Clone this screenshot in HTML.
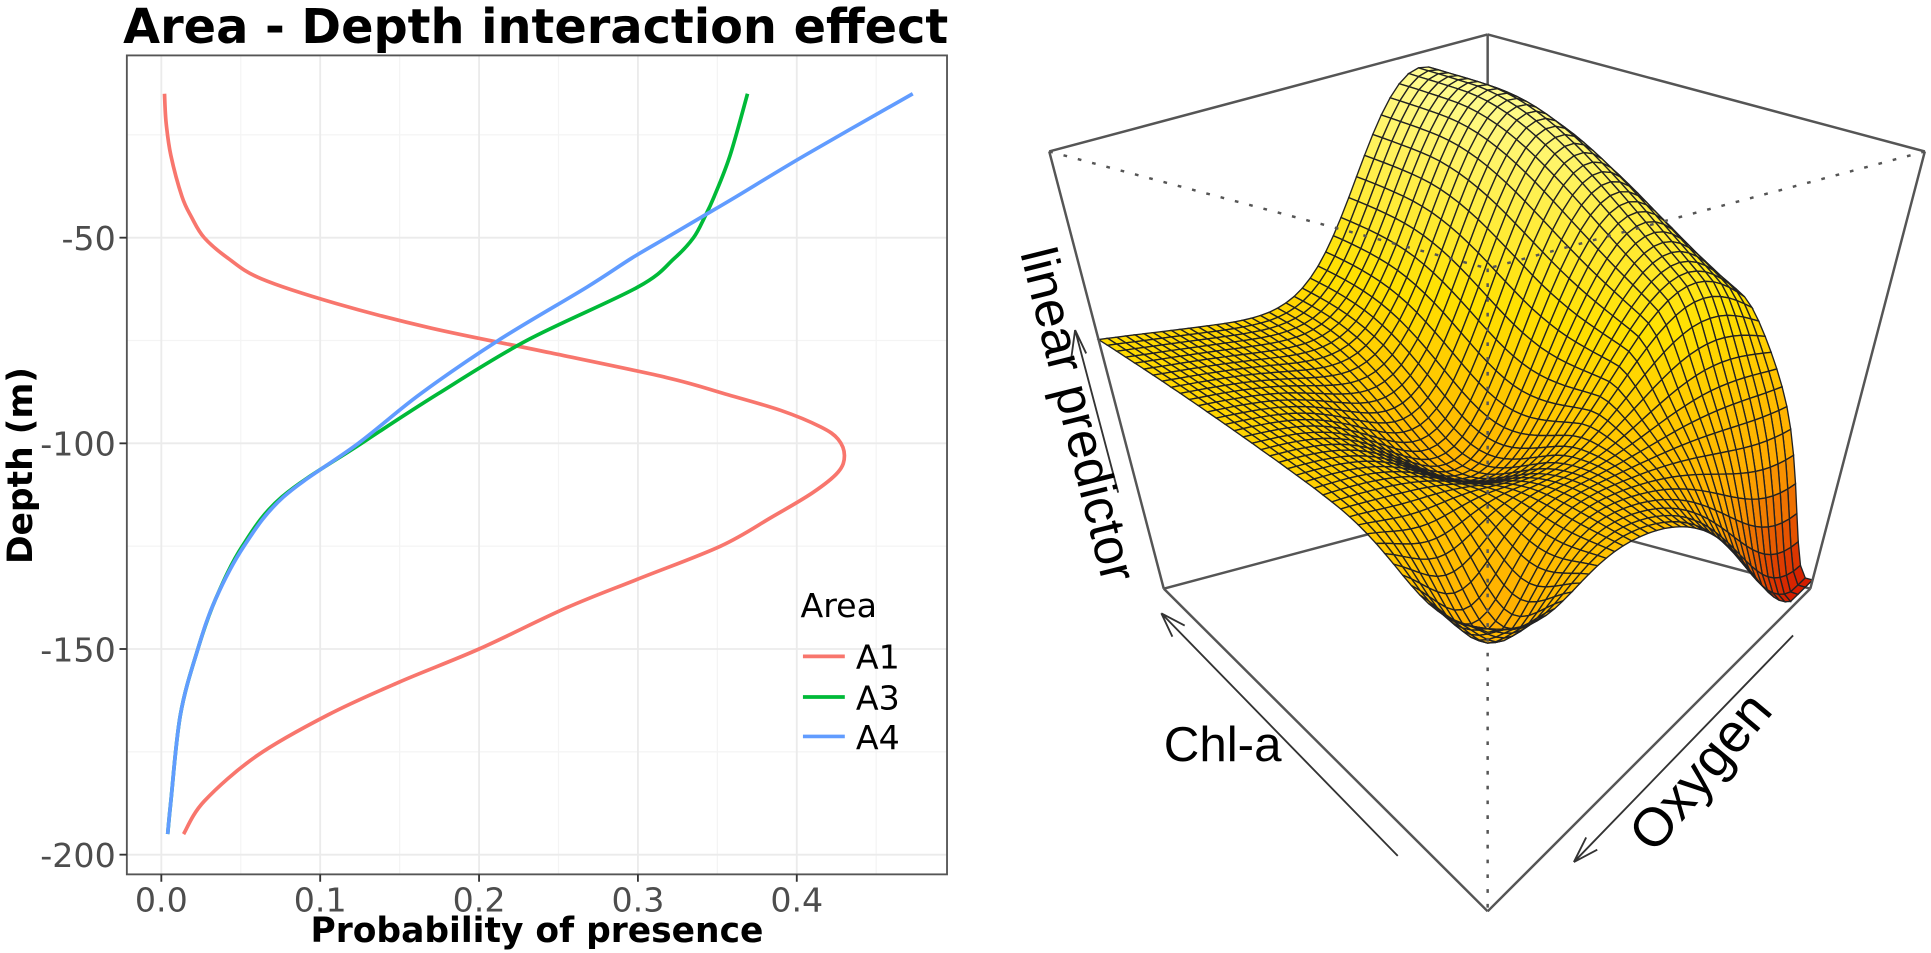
<!DOCTYPE html>
<html><head><meta charset="utf-8"><style>
body{margin:0;background:#fff;width:1931px;height:953px;overflow:hidden;font-family:"DejaVu Sans","Liberation Sans",sans-serif}
svg{position:absolute;left:0;top:0}
.lib{font-family:"Liberation Sans",sans-serif}
</style></head><body>
<svg id="s" width="1931" height="953">
<g transform="scale(1.2315)">
<text x="100" y="35" font-size="39" font-weight="bold" textLength="670" lengthAdjust="spacingAndGlyphs">Area - Depth interaction effect</text>
<g id="grid"></g>
<rect x="103" y="45" width="666" height="665" fill="none" stroke="#555" stroke-width="1.5"/>
<g id="ticks"></g>
<g id="lines"></g>
<text transform="translate(26,378) rotate(-90)" text-anchor="middle" font-size="28" font-weight="bold">Depth (m)</text>
<text x="436" y="765" text-anchor="middle" font-size="28" font-weight="bold">Probability of presence</text>
<g>
<text x="650" y="501" font-size="27">Area</text>
<g><line x1="652" y1="533" x2="686" y2="533" stroke="#F8766D" stroke-width="3"/><text x="695" y="543" font-size="27">A1</text></g>
<g><line x1="652" y1="566" x2="686" y2="566" stroke="#00BA38" stroke-width="3"/><text x="695" y="576" font-size="27">A3</text></g>
<g><line x1="652" y1="598" x2="686" y2="598" stroke="#619CFF" stroke-width="3"/><text x="695" y="608" font-size="27">A4</text></g>
</g>
<g id="box-back"></g>
<g id="surf"></g>
<g id="box-front"></g>
<g fill="none" stroke="#333" stroke-width="1.5">
<path d="M908,400 L873,268 M873,268 L870,290 M873,268 L882,287"/>
<path d="M1135,695 L943,498 M943,498 L952,517 M943,498 L962,508"/>
<path d="M1456,516 L1278,700 M1278,700 L1288,680 M1278,700 L1297,690"/>
</g>
<text class="lib" transform="translate(862,340) rotate(76)" text-anchor="middle" font-size="42">linear predictor</text>
<text class="lib" x="945" y="618" font-size="40">Chl-a</text>
<text class="lib" transform="translate(1392,636) rotate(-50)" text-anchor="middle" font-size="44">Oxygen</text>
</g>
</svg>
<script>
const NS="http://www.w3.org/2000/svg";
const xTicks=[0,0.1,0.2,0.3,0.4];
const xTickLabels=["0.0","0.1","0.2","0.3","0.4"];
const yTicks=[-50,-100,-150,-200];
const yTickLabels=["-50","-100","-150","-200"];
const depthA1=[-15,-22,-30,-40,-45,-50,-55,-60,-66,-72,-78,-84,-88,-92,-96,-99,-103,-107,-112,-118,-125,-133,-140,-150,-158,-166,-176,-187,-195];
const a1=[0.002,0.003,0.006,0.013,0.019,0.027,0.042,0.063,0.11,0.17,0.245,0.318,0.355,0.39,0.415,0.426,0.43,0.426,0.41,0.384,0.352,0.3,0.255,0.2,0.15,0.105,0.06,0.027,0.014];
const depthA34=[-15,-30,-40,-45,-50,-55,-62,-75,-88,-100,-113,-125,-138,-150,-166,-187,-195];
const a3=[0.369,0.358,0.348,0.342,0.335,0.323,0.30,0.23,0.174,0.126,0.076,0.051,0.034,0.023,0.012,0.006,0.004];
const a4=[0.473,0.405,0.362,0.34,0.318,0.296,0.268,0.212,0.163,0.124,0.077,0.052,0.034,0.023,0.012,0.006,0.004];
const X=v=>131+v*1290, Y=d=>193+(-50-d)*3.34;
function mk(t,at,p){const e=document.createElementNS(NS,t);for(const k in at)e.setAttribute(k,at[k]);p.appendChild(e);return e;}
const g=document.getElementById('grid');
[-25,-75,-125,-175].forEach(d=>{const l=mk('line',{x1:103,x2:769,y1:Y(d),y2:Y(d),stroke:'#f4f4f4','stroke-width':1},g);});
[0.05,0.15,0.25,0.35,0.45].forEach(v=>{const l=mk('line',{x1:X(v),x2:X(v),y1:45,y2:710,stroke:'#f4f4f4','stroke-width':1},g);});
const tg=document.getElementById('ticks');
yTicks.forEach((d,i)=>{const l=mk('line',{x1:103,x2:769,y1:Y(d),y2:Y(d),stroke:'#ebebeb','stroke-width':1.5},g);
mk('line',{x1:97,x2:103,y1:Y(d),y2:Y(d),stroke:'#333','stroke-width':1.5},tg);
const t=mk('text',{x:94,y:Y(d)+10,'text-anchor':'end','font-size':27,fill:'#4d4d4d'},tg);t.textContent=yTickLabels[i];});
xTicks.forEach((v,i)=>{const l=mk('line',{x1:X(v),x2:X(v),y1:45,y2:710,stroke:'#ebebeb','stroke-width':1.5},g);
mk('line',{x1:X(v),x2:X(v),y1:710,y2:716,stroke:'#333','stroke-width':1.5},tg);
const t=mk('text',{x:X(v),y:740,'text-anchor':'middle','font-size':27,fill:'#4d4d4d'},tg);t.textContent=xTickLabels[i];});
const lg=document.getElementById('lines');
function path(vals,dep){let p=vals.map((v,i)=>[X(v),Y(dep[i])]);let d='M'+p[0];for(let i=0;i<p.length-1;i++){const p0=p[Math.max(0,i-1)],p1=p[i],p2=p[i+1],p3=p[Math.min(p.length-1,i+2)];d+=' C'+(p1[0]+(p2[0]-p0[0])/6)+','+(p1[1]+(p2[1]-p0[1])/6)+' '+(p2[0]-(p3[0]-p1[0])/6)+','+(p2[1]-(p3[1]-p1[1])/6)+' '+p2;}return d;}
[[a1,depthA1,'#F8766D','line-a1'],[a3,depthA34,'#00BA38','line-a3'],[a4,depthA34,'#619CFF','line-a4']].forEach(s=>{const e=mk('path',{d:path(s[0],s[1]),fill:'none',stroke:s[2],'stroke-width':3},lg);});
// 3D box
const TB=[1208,28],TL=[852,123],TR=[1563,123],TF=[1208,218],BB=[1208,408],BL=[945,478],BR=[1470,478],BF=[1208,740];
const bb=document.getElementById('box-back'),bf=document.getElementById('box-front');
function ln(p,q,par,dash){mk('line',{x1:p[0],y1:p[1],x2:q[0],y2:q[1],stroke:'#555','stroke-width':2,'stroke-dasharray':dash||'none'},par);}
ln(TB,BB,bb);ln(BB,BL,bb);ln(BB,BR,bb);
ln(TL,TF,bf,'3,9');ln(TR,TF,bf,'3,9');ln(TF,BF,bf,'3,9');
ln(TL,TB,bf);ln(TB,TR,bf);ln(TL,BL,bf);ln(TR,BR,bf);ln(BL,BF,bf);ln(BF,BR,bf);
// surface
function bil(P00,P10,P01,P11,a,b){return [(1-a)*(1-b)*P00[0]+a*(1-b)*P10[0]+(1-a)*b*P01[0]+a*b*P11[0],(1-a)*(1-b)*P00[1]+a*(1-b)*P10[1]+(1-a)*b*P01[1]+a*b*P11[1]];}
function H(a,b){
 let h=0.45+0.12*a*(1-b);
 let rb=b<0.12?1:Math.exp(-(b-0.12)*(b-0.12)/0.35);
 if(b>0.65)rb*=Math.exp(-(b-0.65)*(b-0.65)/0.015);
 h+=0.5*Math.exp(-(a-0.15)*(a-0.15)/0.05)*rb;
 h-=0.45*Math.exp(-(b-1)*(b-1)/0.02)*Math.exp(-a*a/0.1);
 h-=0.15*Math.exp(-((a-0.5)*(a-0.5))/0.05-((b-0.45)*(b-0.45))/0.05);
 h-=0.15*Math.exp(-((a-0.85)*(a-0.85))/0.02-((b-0.85)*(b-0.85))/0.02);
 return Math.max(0.02,Math.min(0.98,h));}
function P(a,b){const base=bil(BB,BL,BR,BF,a,b),top=bil(TB,TL,TR,TF,a,b),h=H(a,b);return [base[0]+(top[0]-base[0])*h,base[1]+(top[1]-base[1])*h,h];}
function col(h){let r,gg,bl;if(h>0.6){const t=(h-0.6)/0.4;r=255;gg=225+30*t;bl=0+160*t;}else if(h>0.3){const t=(h-0.3)/0.3;r=255;gg=170+55*t;bl=0;}else{const t=h/0.3;r=210+45*t;gg=20+150*t;bl=0;}return `rgb(${r|0},${gg|0},${bl|0})`;}
const N=44,sg=document.getElementById('surf');const cells=[];
for(let i=0;i<N;i++)for(let j=0;j<N;j++)cells.push([i,j]);
cells.sort((c,d)=>(c[0]+c[1])-(d[0]+d[1]));
cells.forEach(([i,j])=>{const a0=i/N,a1_=(i+1)/N,b0=j/N,b1=(j+1)/N;const p=[P(a0,b0),P(a1_,b0),P(a1_,b1),P(a0,b1)];const h=(p[0][2]+p[1][2]+p[2][2]+p[3][2])/4;
mk('polygon',{points:p.map(q=>q[0].toFixed(1)+','+q[1].toFixed(1)).join(' '),fill:col(h),stroke:'#222','stroke-width':1.1},sg);});
</script>
</body></html>
